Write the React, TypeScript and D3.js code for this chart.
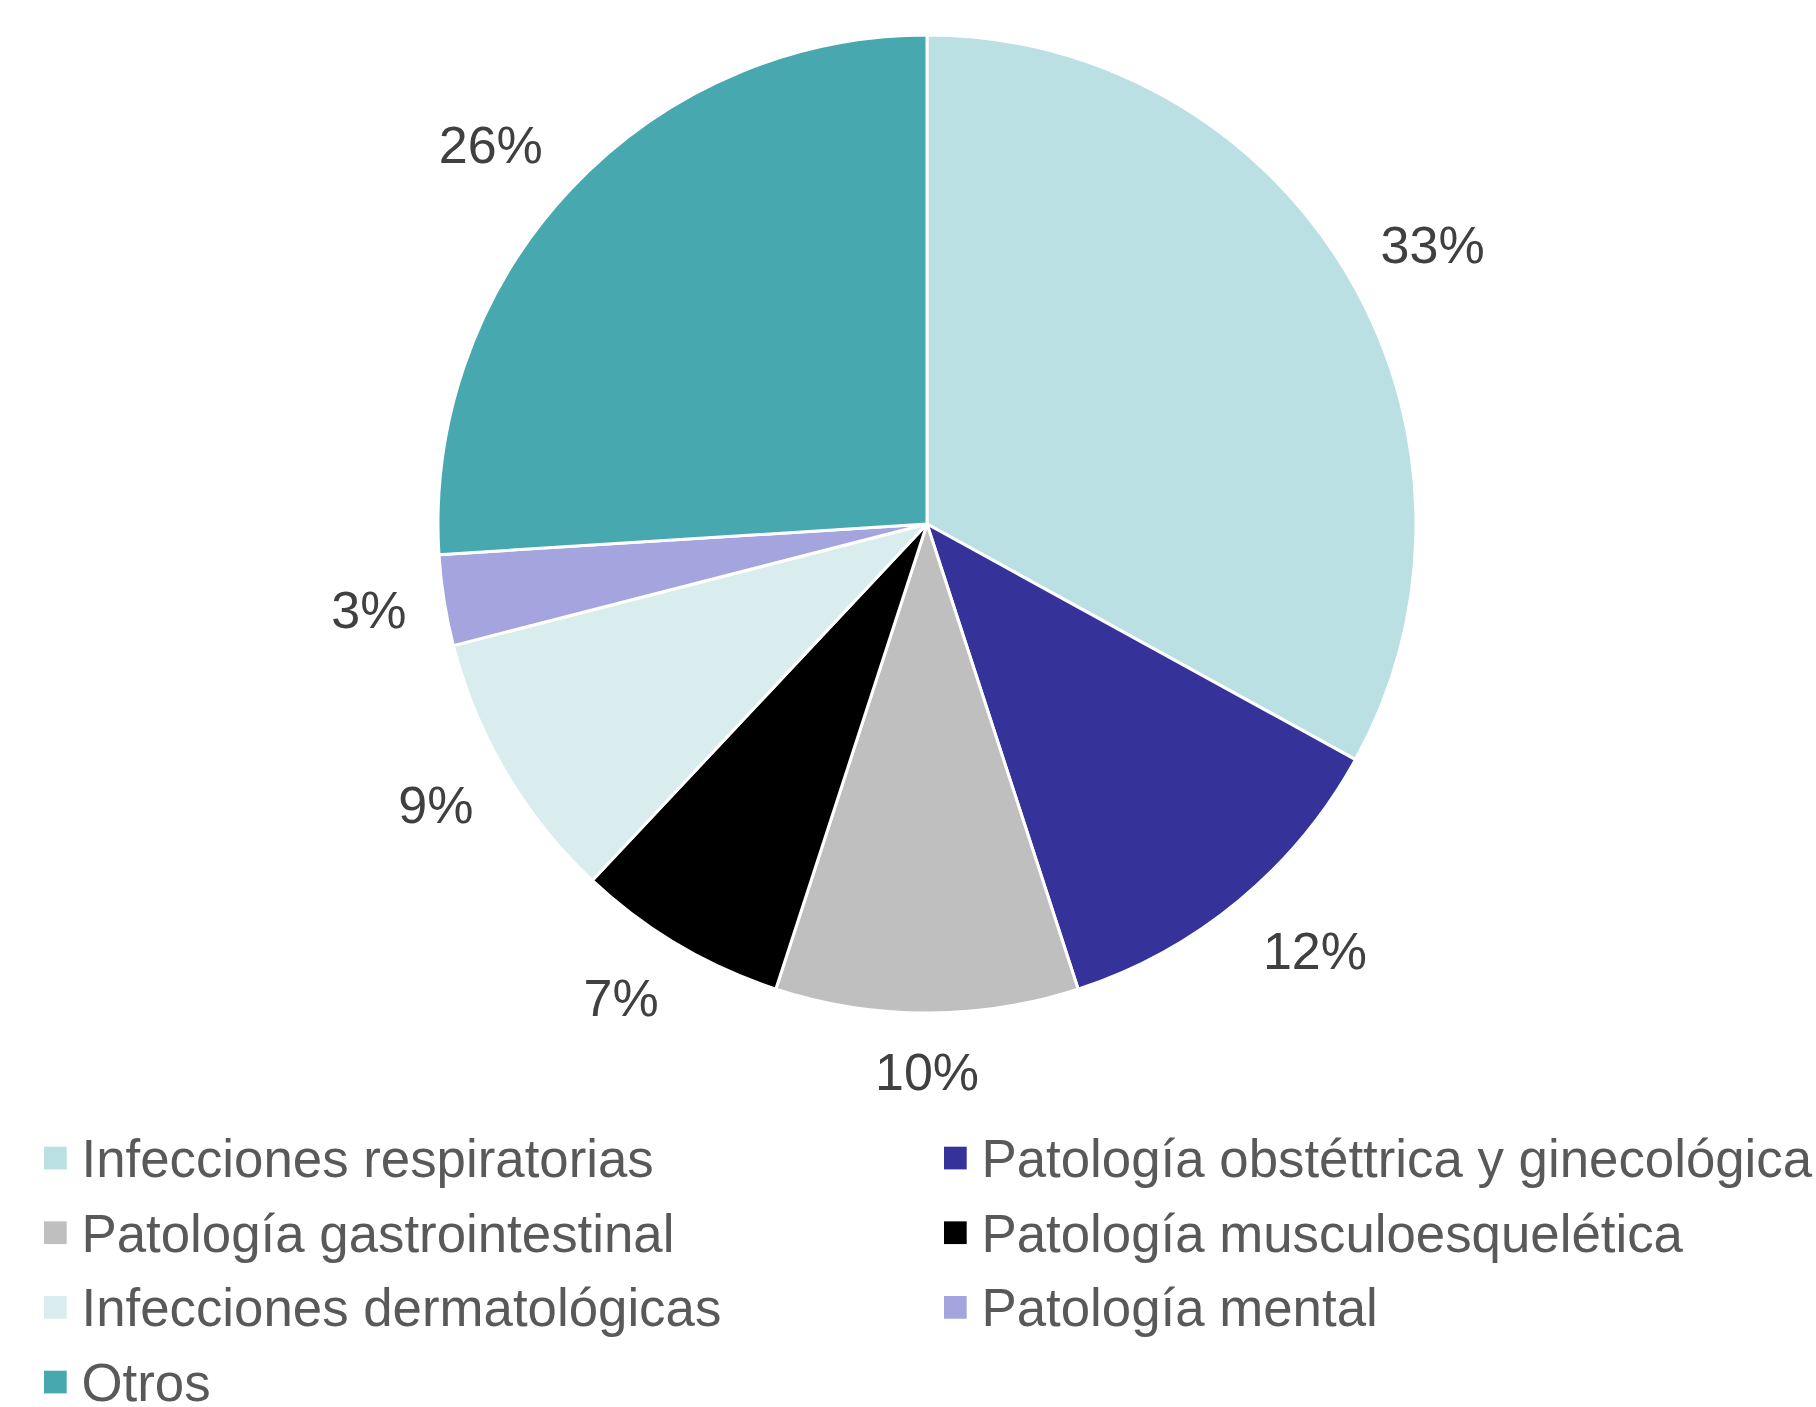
import React from "react";
import * as d3 from "d3";

const categories = [
  "Infecciones respiratorias",
  "Patología obstéttrica y ginecológica",
  "Patología gastrointestinal",
  "Patología musculoesquelética",
  "Infecciones dermatológicas",
  "Patología mental",
  "Otros",
];
const values = [33, 12, 10, 7, 9, 3, 26];
const colors = ["#BAE0E3", "#35339A", "#BFBFBF", "#000000", "#DAEDEE", "#A4A4DE", "#48A8B0"];

const W = 1816;
const H = 1407;
const CX = 927;
const CY = 524;
const R = 489;
const FONT = "'Liberation Sans', Arial, Helvetica, sans-serif";
const LABEL_SIZE = 52;
const LEGEND_SIZE = 52.8;

function textWidth(s: string, size: number) {
  let w = 0;
  for (const ch of s) w += ch === "%" ? 0.889 : 0.556;
  return w * size;
}

export default function App() {
  const pie = d3.pie<number>().value((d) => d).sort(null);
  const arcs = pie(values);
  const arcGen = d3.arc<d3.PieArcDatum<number>>().innerRadius(0).outerRadius(R);

  const legendRows = d3.scaleLinear().domain([0, 3]).range([1158, 1382]);
  const legendCols = [44, 944];

  return (
    <svg
      width={W}
      height={H}
      style={{ position: "absolute", left: 0, top: 0, background: "#fff" }}
      fontFamily={FONT}
    >
      <rect x={0} y={0} width={W} height={H} fill="#fff" />
      <g transform={`translate(${CX},${CY})`}>
        {arcs.map((a, i) => (
          <path key={i} d={arcGen(a) || ""} fill={colors[i]} stroke="#fff" strokeWidth={3} strokeLinejoin="round" />
        ))}
        {arcs.map((a, i) => {
          const mid = (a.startAngle + a.endAngle) / 2;
          const s = Math.sin(mid);
          const c = -Math.cos(mid);
          const txt = `${values[i]}%`;
          const w = textWidth(txt, LABEL_SIZE);
          const hh = 20;
          const d = R + 38;
          const ox = (w / 2) * Math.sign(s) * Math.min(1, Math.abs(s) / 0.3);
          const oy = hh * Math.sign(c) * Math.min(1, Math.abs(c) / Math.max(Math.abs(s), 1e-6));
          const x = s * d + ox;
          const y = c * d + oy;
          return (
            <text
              key={`l${i}`}
              x={x}
              y={y + LABEL_SIZE * 0.358}
              textAnchor="middle"
              fontSize={LABEL_SIZE}
              fill="#404040"
            >
              {txt}
            </text>
          );
        })}
      </g>
      <g>
        {categories.map((name, i) => {
          const row = Math.floor(i / 2);
          const col = i % 2;
          const y = legendRows(row);
          const x = legendCols[col];
          return (
            <g key={`g${i}`}>
              <rect x={x} y={y - 11.3} width={22.7} height={22.7} fill={colors[i]} />
              <text x={x + 37.5} y={y + LEGEND_SIZE * 0.358} fontSize={LEGEND_SIZE} fill="#595959">
                {name}
              </text>
            </g>
          );
        })}
      </g>
    </svg>
  );
}
